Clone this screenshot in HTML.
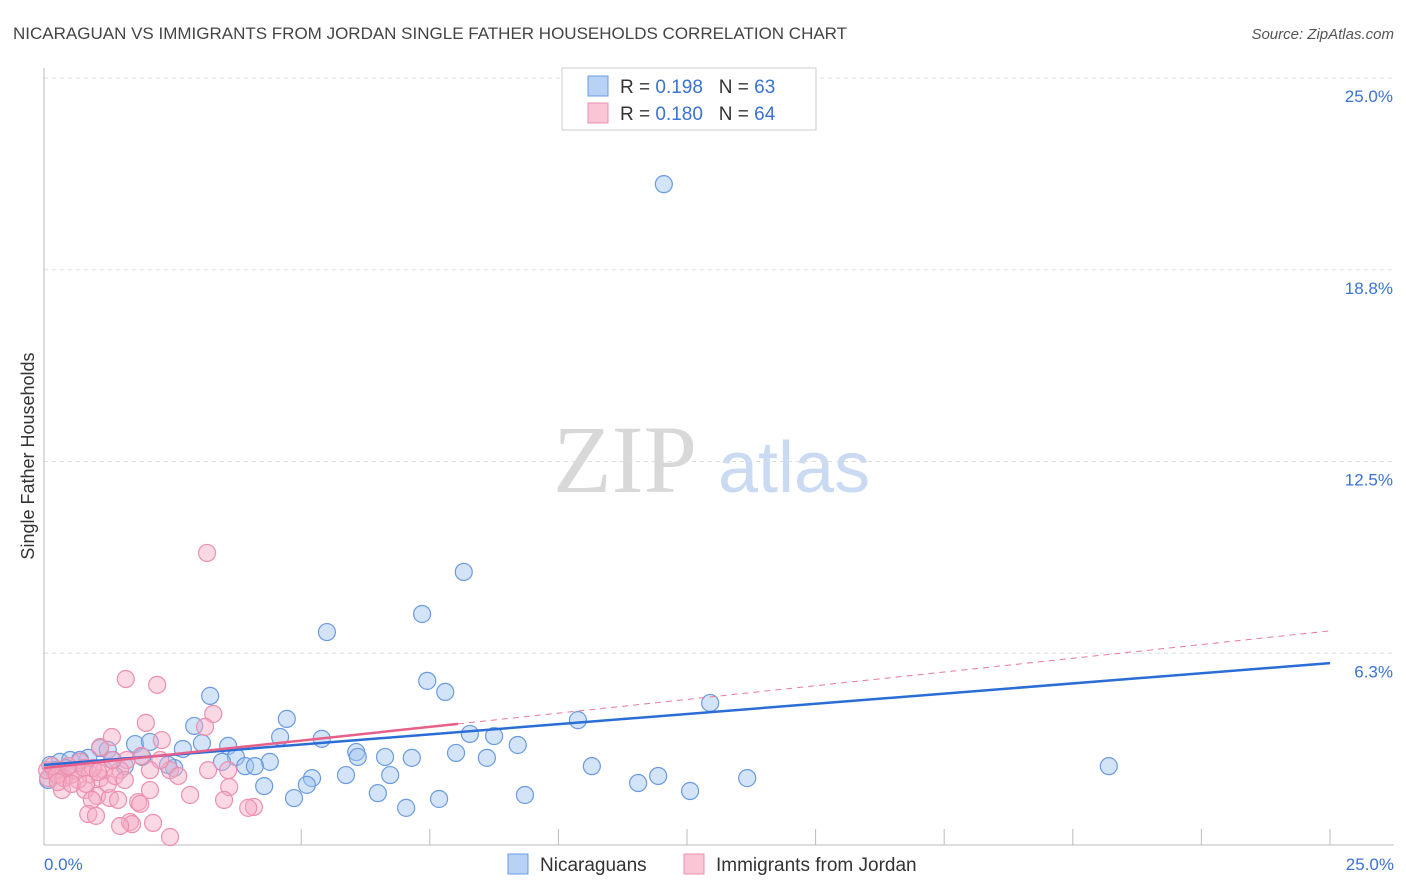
<!DOCTYPE html>
<html><head><meta charset="utf-8"><style>
body{margin:0;background:#fff;font-family:"Liberation Sans",sans-serif;}
svg{display:block}
</style></head><body>
<svg id="chart" width="1406" height="892">
<text x="13" y="39" font-size="17" fill="#444">NICARAGUAN VS IMMIGRANTS FROM JORDAN SINGLE FATHER HOUSEHOLDS CORRELATION CHART</text>
<text x="1394" y="39" font-size="15" fill="#555" font-style="italic" text-anchor="end">Source: ZipAtlas.com</text>
<g>
<text x="553" y="492" font-family="Liberation Serif,serif" font-size="96" fill="#d8d8d8">ZIP</text>
<text x="718" y="492" font-size="72" fill="#c9daf2">atlas</text>
</g>
<g id="grid"></g>
<g id="axes"></g>
<text transform="translate(34,456) rotate(-90)" font-size="18" fill="#333" text-anchor="middle">Single Father Households</text>
<g id="marks"></g>
<g>
<rect x="562" y="68" width="254" height="62" fill="#fff" stroke="#ccc"/>
<rect x="588" y="76" width="20" height="20" fill="#b8d2f5" stroke="#6a9be0"/>
<rect x="588" y="103" width="20" height="20" fill="#f9c6d6" stroke="#ec8fae"/>
<text x="620" y="93" font-size="19" fill="#333">R = <tspan fill="#3a73d1">0.198</tspan>&#160;&#160;&#160;N = <tspan fill="#3a73d1">63</tspan></text>
<text x="620" y="120" font-size="19" fill="#333">R = <tspan fill="#3a73d1">0.180</tspan>&#160;&#160;&#160;N = <tspan fill="#3a73d1">64</tspan></text>
</g>
<g>
<rect x="508" y="854" width="20" height="20" fill="#b8d2f5" stroke="#6a9be0"/>
<text x="540" y="871" font-size="19" fill="#333">Nicaraguans</text>
<rect x="684" y="854" width="20" height="20" fill="#f9c6d6" stroke="#ec8fae"/>
<text x="716" y="871" font-size="19" fill="#333">Immigrants from Jordan</text>
</g>
</svg>
<script>
const yTicks=[6.25,12.5,18.75,25];
const yTickLabels=["6.3%","12.5%","18.8%","25.0%"];
const xTicks=[5,7.5,10,12.5,15,17.5,20,22.5,25];
const blueX=[12.05,8.16,7.35,5.50,7.45,7.80,3.23,12.95,10.38,4.72,2.92,4.59,5.40,8.28,8.75,9.21,1.77,2.70,3.07,3.58,1.09,2.06,1.24,6.07,6.63,7.15,8.01,8.61,6.10,10.65,20.70,4.39,3.73,3.91,4.10,2.53,2.41,1.57,0.31,0.12,0.51,0.86,6.73,5.87,5.21,5.11,11.94,13.67,11.55,12.56,4.28,6.49,9.35,4.86,7.68,7.04,0.21,0.70,1.34,1.91,0.43,0.08,3.46];
const blueY=[21.54,8.90,7.53,6.94,5.35,4.99,4.86,4.63,4.07,4.11,3.88,3.52,3.46,3.62,3.55,3.26,3.29,3.13,3.32,3.23,3.16,3.36,3.10,3.03,2.87,2.84,3.00,2.84,2.87,2.57,2.57,2.71,2.87,2.57,2.57,2.51,2.61,2.57,2.71,2.61,2.77,2.84,2.28,2.28,2.18,1.96,2.25,2.18,2.02,1.76,1.92,1.69,1.63,1.53,1.50,1.21,2.44,2.77,2.77,2.87,2.51,2.12,2.71];
const pinkX=[3.17,1.59,2.20,3.29,1.98,3.13,1.32,1.09,1.61,1.89,0.70,0.31,0.51,0.89,1.09,0.21,0.08,0.35,0.80,1.48,2.45,3.19,3.58,2.06,1.03,0.93,1.28,1.83,1.44,2.84,3.60,3.50,4.08,3.97,0.86,1.01,1.87,1.67,1.71,2.12,1.48,2.45,0.06,0.16,0.25,0.39,0.58,0.66,0.78,1.17,1.24,1.38,0.95,0.47,0.27,0.54,0.82,2.26,2.61,1.32,1.05,1.57,2.06,2.29];
const pinkY=[9.52,5.41,5.22,4.27,3.98,3.85,3.52,3.19,2.77,2.90,2.71,2.44,2.28,2.31,2.18,2.35,2.18,1.79,1.79,2.44,2.44,2.44,2.44,1.79,1.60,1.47,1.53,1.40,1.47,1.63,1.89,1.47,1.24,1.21,1.01,0.95,1.34,0.75,0.68,0.72,0.62,0.26,2.44,2.57,2.28,2.18,2.44,2.12,2.51,2.44,1.99,2.25,2.51,2.57,2.05,1.99,1.99,2.77,2.25,2.77,2.38,2.12,2.44,3.42];
const blueTrend=[2.61,5.93];
const pinkTrend=[2.51,6.98];
const pinkSolidEnd=8.05;

const NS="http://www.w3.org/2000/svg";
const X=v=>44+v*51.44, Y=v=>845-v*30.68;
function mk(tag,attrs,parent){const e=document.createElementNS(NS,tag);for(const k in attrs)e.setAttribute(k,attrs[k]);parent.appendChild(e);return e;}
const grid=document.getElementById('grid'),axes=document.getElementById('axes'),marks=document.getElementById('marks');
yTicks.forEach((t,i)=>{
 const l=mk('line',{x1:44,x2:1394,y1:Y(t),y2:Y(t),stroke:'#ddd','stroke-dasharray':'4,4'},grid);
 
 
 const tx=mk('text',{x:1393,y:Y(t)+24,'font-size':17,fill:'#3a73d1','text-anchor':'end'},grid);
 tx.textContent=yTickLabels[i];
 
 
});
let a=mk('line',{x1:44,x2:44,y1:68,y2:845,stroke:'#bbb'},axes);


a=mk('line',{x1:44,x2:1394,y1:845,y2:845,stroke:'#bbb'},axes);


xTicks.forEach(t=>{
 const l=mk('line',{x1:X(t),x2:X(t),y1:829,y2:845,stroke:'#bbb'},axes);
 
 
});
let t0=mk('text',{x:44,y:870,'font-size':17,fill:'#3a73d1'},axes);t0.textContent='0.0%';


let t1=mk('text',{x:1394,y:870,'font-size':17,fill:'#3a73d1','text-anchor':'end'},axes);t1.textContent='25.0%';


blueX.forEach((x,i)=>{
 const c=mk('circle',{cx:X(x),cy:Y(blueY[i]),r:8.5,fill:'rgba(160,196,240,0.45)',stroke:'#6a9be0','stroke-width':1.2},marks);
 
 
});
pinkX.forEach((x,i)=>{
 const c=mk('circle',{cx:X(x),cy:Y(pinkY[i]),r:8.5,fill:'rgba(245,170,195,0.45)',stroke:'#ec8fae','stroke-width':1.2},marks);
 
 
});
const py=x=>pinkTrend[0]+(pinkTrend[1]-pinkTrend[0])*x/25;
let l=mk('line',{x1:X(pinkSolidEnd),y1:Y(py(pinkSolidEnd)),x2:X(25),y2:Y(pinkTrend[1]),stroke:'#e8799c','stroke-width':1,'stroke-dasharray':'6,5'},marks);


l=mk('line',{x1:X(0),y1:Y(blueTrend[0]),x2:X(25),y2:Y(blueTrend[1]),stroke:'#2a6dd6','stroke-width':2.5},marks);


l=mk('line',{x1:X(0),y1:Y(pinkTrend[0]),x2:X(pinkSolidEnd),y2:Y(py(pinkSolidEnd)),stroke:'#e8608a','stroke-width':2.5},marks);


</script>
</body></html>
